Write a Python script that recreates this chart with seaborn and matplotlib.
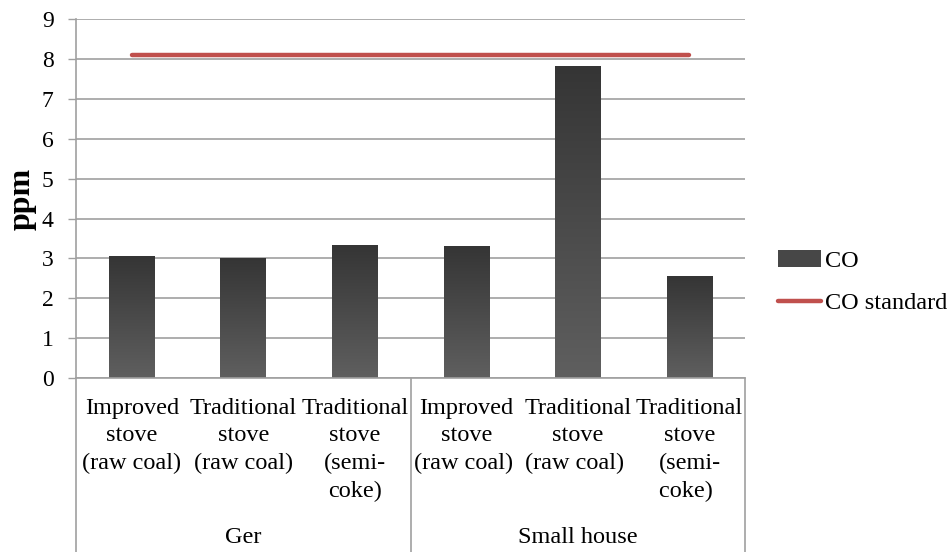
import numpy as np
import pandas as pd
import matplotlib
matplotlib.use("Agg")
import matplotlib.pyplot as plt
import seaborn as sns
from matplotlib.colors import LinearSegmentedColormap
from matplotlib.patches import Patch
from matplotlib.lines import Line2D
import matplotlib.transforms as mtransforms

# Stove / fuel categories and the household type they belong to
categories = [
    "Improved\nstove\n(raw coal)",
    "Traditional\nstove\n(raw coal)",
    "Traditional\nstove\n(semi-\ncoke)",
    "Improved\nstove\n(raw coal) ",
    "Traditional\nstove\n(raw coal) ",
    "Traditional\nstove\n(semi-\ncoke) ",
]
groups = ["Ger", "Small house"]
group_sizes = [3, 3]

# Measured CO concentration (ppm) and the CO standard level
co_values = [3.05, 3.0, 3.32, 3.3, 7.8, 2.55]
co_standard = [8.1, 8.1, 8.1, 8.1, 8.1, 8.1]
y_ticks = [0, 1, 2, 3, 4, 5, 6, 7, 8, 9]

df = pd.DataFrame({"category": categories, "CO": co_values,
                   "standard": co_standard})

sns.set_style("white")
plt.rcParams["font.family"] = ["Liberation Serif", "DejaVu Serif"]
for key in ["text.color", "axes.labelcolor", "xtick.labelcolor",
            "ytick.labelcolor"]:
    plt.rcParams[key] = "black"

label_size = 17.5
fig = plt.figure(figsize=(9.53, 5.52), dpi=100)
ax = fig.add_axes([0.0797, 0.315, 0.7023, 0.6505])

grid_color = "#a0a0a0"
sns.barplot(data=df, x="category", y="CO", ax=ax, width=0.41,
            color="#4a4a4a", saturation=1, order=categories)

# Vertical gradient fill on each bar (dark at the top, lighter below)
cmap = LinearSegmentedColormap.from_list("bar_grad", ["#5f5f5f", "#353535"])
grad = np.linspace(0, 1, 256).reshape(-1, 1)
for p in list(ax.patches):
    x0, y0 = p.get_x(), p.get_y()
    w, h = p.get_width(), p.get_height()
    ax.imshow(grad, cmap=cmap, origin="lower", aspect="auto",
              extent=[x0, x0 + w, y0, y0 + h], zorder=2)
    p.set_facecolor("none")
    p.set_edgecolor("none")

# CO standard line spanning the category centres
sns.lineplot(x=np.arange(len(categories)), y=df["standard"], ax=ax,
             color="#c0504d", linewidth=3.2, zorder=3,
             solid_capstyle="round")

ax.set_xlim(-0.5, len(categories) - 0.5)
ax.set_ylim(0, 9)
ax.set_yticks(y_ticks)
ax.set_yticklabels([str(t) for t in y_ticks], fontsize=17)
ax.yaxis.grid(True, color=grid_color, linewidth=1.2)
ax.set_axisbelow(True)
ax.tick_params(axis="y", which="major", direction="out", length=6,
               width=1, color=grid_color, pad=10, left=True)
ax.tick_params(axis="x", length=0, pad=14)
ax.set_xticks(np.arange(len(categories)))
ax.set_xticklabels(categories, fontsize=label_size, linespacing=1.42)
ax.set_xlabel("")
ax.set_ylabel("ppm", fontsize=23, fontweight="bold", labelpad=4)

for side in ["top", "right"]:
    ax.spines[side].set_visible(False)
for side in ["left", "bottom"]:
    ax.spines[side].set_color(grid_color)
    ax.spines[side].set_linewidth(1.2)

# Group separators and group labels beneath the category labels
trans = mtransforms.blended_transform_factory(ax.transData, ax.transAxes)
bottom_axes = -0.315 / 0.6505
start = 0
bounds = [-0.5]
for g, n in zip(groups, group_sizes):
    centre = start + (n - 1) / 2
    ax.text(centre, -0.443, g, transform=trans,
            ha="center", va="center", fontsize=label_size)
    start += n
    bounds.append(start - 0.5)
for b in bounds:
    ax.plot([b, b], [0, bottom_axes], transform=trans, color=grid_color,
            linewidth=1.2, clip_on=False)

handles = [Patch(facecolor="#474747", edgecolor="none"),
           Line2D([0], [0], color="#c0504d", linewidth=3.2,
                  solid_capstyle="round")]
fig.legend(handles, ["CO", "CO standard"], loc="center left",
           bbox_to_anchor=(0.816, 0.489), frameon=False, fontsize=label_size,
           handlelength=1.8, handletextpad=0.15, labelspacing=0.85,
           borderpad=0, borderaxespad=0)

fig.savefig("out.png", dpi=100)
